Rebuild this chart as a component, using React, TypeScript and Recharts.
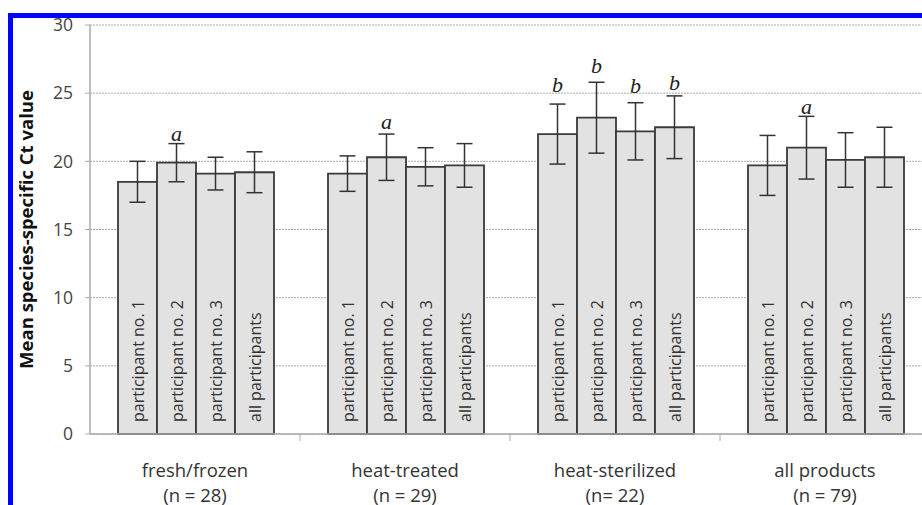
import React from "react";
import { BarChart, Bar, XAxis, YAxis, CartesianGrid, ErrorBar, LabelList, Label } from "recharts";

const categories = ["fresh/frozen", "heat-treated", "heat-sterilized", "all products"];
const sampleSizes = ["(n = 28)", "(n = 29)", "(n= 22)", "(n = 79)"];
const seriesNames = ["participant no. 1", "participant no. 2", "participant no. 3", "all participants"];

const p1Means = [18.5, 19.1, 22.0, 19.7];
const p2Means = [19.9, 20.3, 23.2, 21.0];
const p3Means = [19.1, 19.6, 22.2, 20.1];
const allMeans = [19.2, 19.7, 22.5, 20.3];

const p1Err = [1.5, 1.3, 2.2, 2.2];
const p2Err = [1.4, 1.7, 2.6, 2.3];
const p3Err = [1.2, 1.4, 2.1, 2.0];
const allErr = [1.5, 1.6, 2.3, 2.2];

const p1Letters = ["", "", "b", ""];
const p2Letters = ["a", "a", "b", "a"];
const p3Letters = ["", "", "b", ""];
const allLetters = ["", "", "b", ""];

// letter baseline positions in data units
const p1LetterPos = [0, 0, 25.1, 0];
const p2LetterPos = [21.5, 22.4, 26.5, 23.5];
const p3LetterPos = [0, 0, 25.0, 0];
const allLetterPos = [0, 0, 25.2, 0];

const yTicks = [0, 5, 10, 15, 20, 25, 30];

const means = [p1Means, p2Means, p3Means, allMeans];
const errs = [p1Err, p2Err, p3Err, allErr];
const letters = [p1Letters, p2Letters, p3Letters, allLetters];
const letterPos = [p1LetterPos, p2LetterPos, p3LetterPos, allLetterPos];

const data = categories.map((cat, i) => {
  const row: any = { cat, n: sampleSizes[i] };
  for (let s = 0; s < 4; s++) {
    row["s" + s] = means[s][i];
    row["e" + s] = errs[s][i];
    row["l" + s] = letters[s][i];
  }
  return row;
});

const CHART_W = 940;
const CHART_H = 520;
const MARGIN = { top: 25, right: 10, left: 0, bottom: 0 };
const Y_AXIS_W = 90;
const BAND = (CHART_W - MARGIN.left - MARGIN.right - Y_AXIS_W) / categories.length;

const FONT = "'Open Sans', sans-serif";

const XTick = (props: any) => {
  const { x, y, payload, index } = props;
  return (
    <g>
      <line x1={x - BAND / 2} x2={x - BAND / 2} y1={y} y2={y + 7} stroke="#aaa" strokeWidth={1} style={{ display: index === 0 ? "none" : undefined }} />
      <text x={x} y={y + 43} textAnchor="middle" fontFamily={FONT} fontSize={18.5} fill="#333">
        {payload.value}
      </text>
      <text x={x} y={y + 68} textAnchor="middle" fontFamily={FONT} fontSize={18.5} fill="#333">
        {sampleSizes[index]}
      </text>
    </g>
  );
};

const makeInsideLabel = (s: number) => (props: any) => {
  const { x, y, width, height } = props;
  const cx = x + width / 2;
  const by = y + height - 12;
  return (
    <text
      x={cx}
      y={by}
      transform={`rotate(-90, ${cx}, ${by})`}
      textAnchor="start"
      dominantBaseline="central"
      fontFamily={FONT}
      fontSize={16}
      fill="#333"
    >
      {seriesNames[s]}
    </text>
  );
};

const makeLetterLabel = (s: number) => (props: any) => {
  const { x, y, width, height, index } = props;
  const letter = letters[s][index];
  if (!letter) return null;
  const v = means[s][index];
  const base = y + height;
  const ly = base - (letterPos[s][index] * height) / v;
  return (
    <text x={x + width / 2} y={ly} textAnchor="middle" fontFamily="'Liberation Serif', serif" fontStyle="italic" fontSize={22} fill="#222">
      {letter}
    </text>
  );
};

export default function App() {
  return (
    <div style={{ position: "fixed", left: 0, top: 0, width: 922, height: 505, overflow: "hidden", background: "#fff" }}>
      <div style={{ position: "absolute", left: 0, top: 0 }}>
        <BarChart width={CHART_W} height={CHART_H} data={data} margin={MARGIN} barCategoryGap={28} barGap={0}>
          <CartesianGrid vertical={false} stroke="#aaa" strokeDasharray="2 1" />
          <XAxis
            dataKey="cat"
            tickLine={false}
            tickSize={0}
            tickMargin={0}
            axisLine={{ stroke: "#aaa", strokeWidth: 1.5 }}
            height={CHART_H - MARGIN.top - 409}
            tick={<XTick />}
            interval={0}
          />
          <YAxis
            width={Y_AXIS_W}
            domain={[0, 30]}
            ticks={yTicks}
            interval={0}
            axisLine={{ stroke: "#aaa", strokeWidth: 1.5 }}
            tickLine={{ stroke: "#aaa" }}
            tickSize={5}
            tickMargin={12}
            tick={{ fontFamily: FONT, fontSize: 17.5, fill: "#444" }}
          >
            <Label
              content={(props: any) => {
                const vb = props.viewBox || { y: 25, height: 409 };
                const cy = vb.y + vb.height / 2;
                return (
                  <text
                    x={25}
                    y={cy}
                    transform={`rotate(-90, 25, ${cy})`}
                    textAnchor="middle"
                    dominantBaseline="central"
                    fontFamily={FONT}
                    fontWeight="bold"
                    fontSize={18.5}
                    fill="#111"
                  >
                    Mean species-specific Ct value
                  </text>
                );
              }}
            />
          </YAxis>
          {[0, 1, 2, 3].map((s) => (
            <Bar key={s} dataKey={"s" + s} fill="#e2e2e2" stroke="#3a3a3a" strokeWidth={1.8} isAnimationActive={false}>
              <ErrorBar dataKey={"e" + s} width={8} stroke="#333" strokeWidth={1.5} />
              <LabelList dataKey={"s" + s} content={makeInsideLabel(s)} />
              <LabelList dataKey={"l" + s} content={makeLetterLabel(s)} />
            </Bar>
          ))}
        </BarChart>
      </div>
      <div
        style={{
          position: "absolute",
          left: 8,
          top: 13,
          width: 930,
          height: 520,
          borderTop: "5px solid #0000ff",
          borderLeft: "5px solid #0000ff",
          boxSizing: "border-box",
          pointerEvents: "none",
        }}
      />
    </div>
  );
}
